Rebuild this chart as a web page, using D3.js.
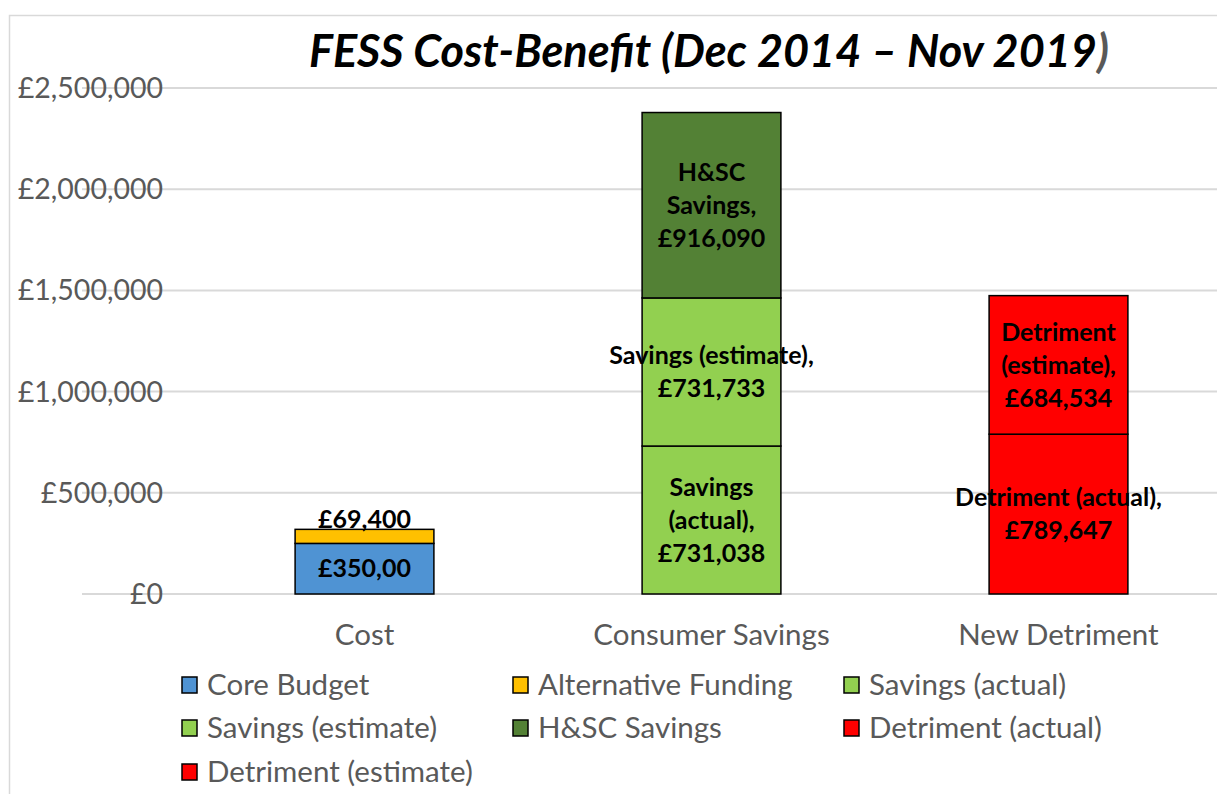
<!DOCTYPE html>
<html>
<head>
<meta charset="utf-8">
<script src="https://cdn.jsdelivr.net/npm/d3@7/dist/d3.min.js"></script>
<style>
  html, body { margin: 0; padding: 0; background: #fff; }
  svg { display: block; }
  text { font-family: Lato, "Open Sans", sans-serif; }
</style>
</head>
<body>
<svg id="chart" width="1217" height="794"></svg>
<script>
// ---- data ----
const categories = ["Cost", "Consumer Savings", "New Detriment"];
const seriesNames = ["Core Budget", "Alternative Funding", "Savings (actual)", "Savings (estimate)", "H&SC Savings", "Detriment (actual)", "Detriment (estimate)"];
const seriesColors = ["#4F93D3", "#FFC000", "#92D050", "#92D050", "#538135", "#FF0000", "#FF0000"];
const coreBudget         = [250000, 0, 0];
const alternativeFunding = [69400, 0, 0];
const savingsActual      = [0, 731038, 0];
const savingsEstimate    = [0, 731733, 0];
const hscSavings         = [0, 916090, 0];
const detrimentActual    = [0, 0, 789647];
const detrimentEstimate  = [0, 0, 684534];
const seriesValues = [coreBudget, alternativeFunding, savingsActual, savingsEstimate, hscSavings, detrimentActual, detrimentEstimate];
// data label text (as shown in the reference)
const labelLines = [
  ["£350,00"],
  ["£69,400"],
  ["Savings", "(actual),", "£731,038"],
  ["Savings (estimate),", "£731,733"],
  ["H&SC", "Savings,", "£916,090"],
  ["Detriment (actual),", "£789,647"],
  ["Detriment", "(estimate),", "£684,534"]
];
const yTicks = [0, 500000, 1000000, 1500000, 2000000, 2500000];
const titleText = "FESS Cost-Benefit (Dec 2014 – Nov 2019";

// ---- layout ----
const svg = d3.select("#chart");
const W = 1217, H = 794;

// frame
svg.append("rect").attr("x", 9.5).attr("y", 15.5).attr("width", W + 20).attr("height", H + 20)
  .attr("fill", "#fff").attr("stroke", "#d9d9d9").attr("stroke-width", 1.5);

const y = d3.scaleLinear().domain([0, 2500000]).range([594, 88]);
const x = d3.scaleBand().domain(categories).range([191, 1232]).paddingInner(0.6).paddingOuter(0.3);

// gridlines
svg.append("g").selectAll("line").data(yTicks).join("line")
  .attr("x1", 82).attr("x2", W)
  .attr("y1", d => y(d)).attr("y2", d => y(d))
  .attr("stroke", "#d9d9d9").attr("stroke-width", 2);

// y axis labels
const fmt = d3.format(",");
svg.append("g").selectAll("text").data(yTicks).join("text")
  .attr("x", 163).attr("y", d => y(d)).attr("dy", "0.35em")
  .attr("text-anchor", "end").attr("fill", "#595959")
  .style("font-size", "28.5px")
  .text(d => "£" + fmt(d));

// stacked data
const stackRows = categories.map((c, i) => {
  const o = { category: c };
  seriesNames.forEach((s, j) => { o[s] = seriesValues[j][i]; });
  return o;
});
const stacked = d3.stack().keys(seriesNames)(stackRows);

const segs = [];
stacked.forEach((layer, j) => {
  layer.forEach((d, i) => {
    if (d[1] - d[0] > 0) segs.push({ j, i, y0: d[0], y1: d[1] });
  });
});

svg.append("g").selectAll("rect").data(segs).join("rect")
  .attr("x", d => x(categories[d.i]))
  .attr("width", x.bandwidth())
  .attr("y", d => y(d.y1))
  .attr("height", d => y(d.y0) - y(d.y1))
  .attr("fill", d => seriesColors[d.j])
  .attr("stroke", "#000").attr("stroke-width", 1.5);

// data labels
const lineH = 33;
const lg = svg.append("g");
segs.forEach(d => {
  const lines = labelLines[d.j];
  const cx = x(categories[d.i]) + x.bandwidth() / 2;
  const hPx = y(d.y0) - y(d.y1);
  let cy = (y(d.y0) + y(d.y1)) / 2;
  if (hPx < 20) cy = y(d.y1) - 10; // small segment: label above
  const t = lg.append("text")
    .attr("text-anchor", "middle").attr("fill", "#000")
    .style("font-size", "25px").style("font-weight", "bold");
  lines.forEach((ln, k) => {
    t.append("tspan").attr("x", cx)
      .attr("y", cy + (k - (lines.length - 1) / 2) * lineH)
      .attr("dy", "0.35em").text(ln);
  });
});

// category labels
svg.append("g").selectAll("text").data(categories).join("text")
  .attr("x", d => x(d) + x.bandwidth() / 2).attr("y", 645)
  .attr("text-anchor", "middle").attr("fill", "#595959")
  .style("font-size", "29.5px")
  .text(d => d);

// title
const title = svg.append("text").attr("x", 709).attr("y", 67)
  .attr("text-anchor", "middle")
  .style("font-size", "45px").style("font-weight", "bold").style("font-style", "italic")
  .attr("fill", "#000");
title.append("tspan").text(titleText);
title.append("tspan").attr("fill", "#595959").text(")");

// legend
const legCols = [181, 512, 843];
const legRows = [685, 728, 772];
const leg = svg.append("g").selectAll("g").data(seriesNames).join("g")
  .attr("transform", (d, i) => `translate(${legCols[i % 3]},${legRows[Math.floor(i / 3)]})`);
leg.append("rect").attr("x", 1).attr("y", -8).attr("width", 15).attr("height", 16)
  .attr("fill", (d, i) => seriesColors[i]).attr("stroke", "#000").attr("stroke-width", 1.5);
leg.append("text").attr("x", 26).attr("y", 0).attr("dy", "0.35em")
  .attr("fill", "#595959").style("font-size", "29.5px").text(d => d);
</script>
</body>
</html>
